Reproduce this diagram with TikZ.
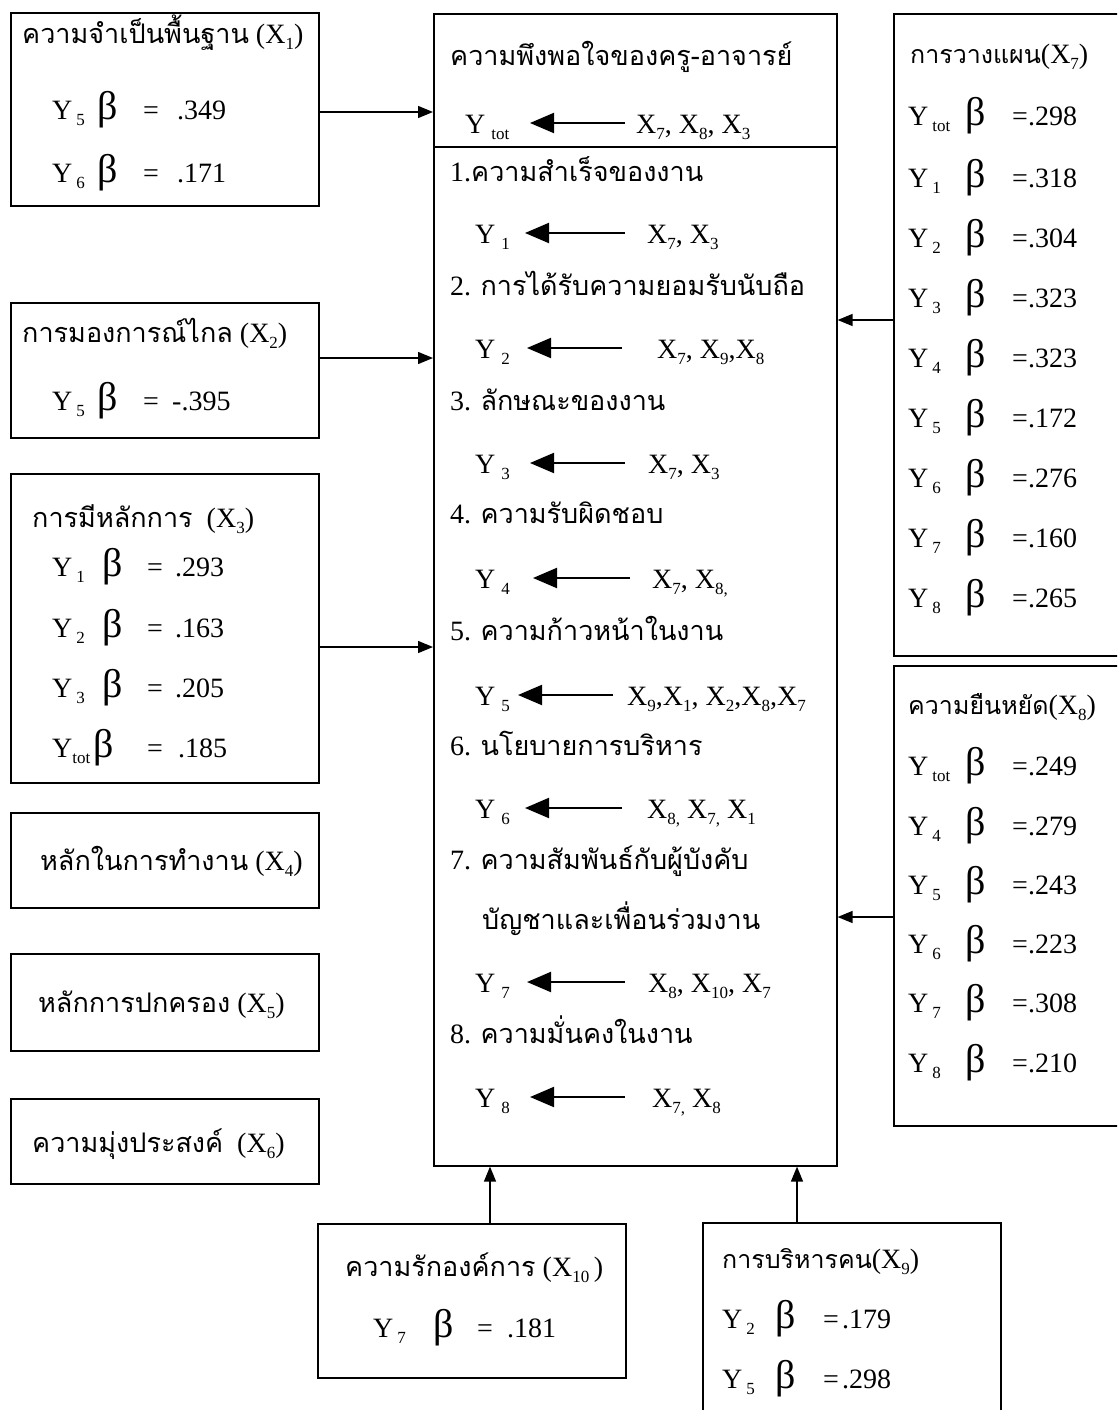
\documentclass[tikz,border=0pt]{standalone}
\usepackage{fontspec}
\setmainfont{Liberation Serif}
\newfontfamily\thaifont[Script=Thai]{Loma}
\usetikzlibrary{arrows.meta}
\newcommand\sbx[1]{\raisebox{-6pt}{\fontsize{17}{17}\selectfont #1}}
\newcommand\tha[1]{{\thaifont\fontsize{27}{32}\selectfont #1}}
\newcommand\thb[1]{{\thaifont\fontsize{25}{30}\selectfont #1}}
\newcommand\bet{{\fontsize{40}{40}\selectfont β}}
% name, ycenter, xY, sub, xBeta, xEq, xVal, value
\newcommand\brow[8]{%
  \node[txt] (#1a) at (#3,#2+10) {Y\hspace{4pt}\sbx{#4}};
  \node[txt] (#1b) at (#5,#2+10) {\bet};
  \node[txt] (#1c) at (#6,#2+10) {=};
  \node[txt] (#1d) at (#7,#2+10) {#8};}
% name, ycenter, xY, sub, xtip, xtail, xlist, list
\newcommand\mrow[8]{%
  \node[txt] (#1y) at (#3,#2+10) {Y\hspace{6pt}\sbx{#4}};
  \coordinate (#1s) at (#6,#2);
  \coordinate (#1e) at (#5,#2);
  \draw[inarr] (#1s) -- (#1e);
  \node[txt] (#1x) at (#7,#2+10) {#8};}
\begin{document}
\begin{tikzpicture}[x=1pt,y=-1pt,
  box/.style={draw,line width=1.6pt,inner sep=0,anchor=north west},
  txt/.style={anchor=base west,inner sep=0,font=\fontsize{28}{34}\selectfont},
  conn/.style={line width=1.4pt,-{Triangle[length=15pt,width=12pt]}},
  inarr/.style={line width=2pt,-{Triangle[length=24pt,width=20pt]}}]
\useasboundingbox (0,0) rectangle (1117,1410);
\clip (0,0) rectangle (1117,1410);
% boxes
\node[box,minimum width=308,minimum height=193] (bx1) at (10,12) {};
\node[box,minimum width=308,minimum height=135] (bx2) at (10,302) {};
\node[box,minimum width=308,minimum height=309] (bx3) at (10,473) {};
\node[box,minimum width=308,minimum height=95] (bx4) at (10,812) {};
\node[box,minimum width=308,minimum height=97] (bx5) at (10,953) {};
\node[box,minimum width=308,minimum height=85] (bx6) at (10,1098) {};
\node[box,minimum width=403,minimum height=1152] (main) at (433,13) {};
\node[box,minimum width=240,minimum height=642] (bx7) at (893,13) {};
\node[box,minimum width=240,minimum height=460] (bx8) at (893,665) {};
\node[box,minimum width=308,minimum height=154] (bx10) at (317,1223) {};
\node[box,minimum width=298,minimum height=220] (bx9) at (702,1222) {};
\coordinate (div) at (0,147);
\draw[line width=1.6pt] (main.west |- div) -- (main.east |- div);
% connectors
\coordinate (c1) at (0,112);
\coordinate (c2) at (0,358);
\coordinate (c3) at (0,647);
\coordinate (c7) at (0,320);
\coordinate (c8) at (0,917);
\coordinate (c10) at (490,0);
\coordinate (c9) at (797,0);
\draw[conn] (bx1.east |- c1) -- (main.west |- c1);
\draw[conn] (bx2.east |- c2) -- (main.west |- c2);
\draw[conn] (bx3.east |- c3) -- (main.west |- c3);
\draw[conn] (bx7.west |- c7) -- (main.east |- c7);
\draw[conn] (bx8.west |- c8) -- (main.east |- c8);
\draw[conn] (bx10.north -| c10) -- (main.south -| c10);
\draw[conn] (bx9.north -| c9) -- (main.south -| c9);
% left boxes
\node[txt] (h1) at (22,44) {\tha{ความจำเป็นพื้นฐาน} (X\sbx{1})};
\brow{a1}{110}{52}{5}{97}{143}{177}{.349}
\brow{a2}{172}{52}{6}{97}{143}{177}{.171}
\node[txt] (h2) at (22,342) {\tha{การมองการณ์ไกล} (X\sbx{2})};
\brow{b1}{400}{52}{5}{97}{143}{172}{-.395}
\node[txt] (h3) at (32,527) {\tha{การมีหลักการ}\ \ (X\sbx{3})};
\brow{c1}{566}{52}{1}{102}{147}{175}{.293}
\brow{c2}{627}{52}{2}{102}{147}{175}{.163}
\brow{c3}{687}{52}{3}{102}{147}{175}{.205}
\node[txt] (c4a) at (52,757) {Y\sbx{tot}};
\node[txt] (c4b) at (93,757) {\bet};
\node[txt] (c4c) at (147,757) {=};
\node[txt] (c4d) at (178,757) {.185};
\node[txt] (h4) at (40,870) {\tha{หลักในการทำงาน} (X\sbx{4})};
\node[txt] (h5) at (38,1012) {\tha{หลักการปกครอง} (X\sbx{5})};
\node[txt] (h6) at (32,1152) {\tha{ความมุ่งประสงค์}\ \ (X\sbx{6})};
% main box
\node[txt] (t0) at (450,66) {\tha{ความพึงพอใจของครู-อาจารย์}};
\mrow{m0}{123}{465}{tot}{530}{625}{636}{X\sbx{7}, X\sbx{8}, X\sbx{3}}
\node[txt] (t1) at (450,181) {1.\tha{ความสำเร็จของงาน}};
\mrow{m1}{233}{475}{1}{525}{625}{647}{X\sbx{7}, X\sbx{3}}
\node[txt] (t2) at (450,295) {2. \tha{การได้รับความยอมรับนับถือ}};
\mrow{m2}{348}{475}{2}{527}{622}{657}{X\sbx{7}, X\sbx{9},X\sbx{8}}
\node[txt] (t3) at (450,410) {3. \tha{ลักษณะของงาน}};
\mrow{m3}{463}{475}{3}{530}{625}{648}{X\sbx{7}, X\sbx{3}}
\node[txt] (t4) at (450,523) {4. \tha{ความรับผิดชอบ}};
\mrow{m4}{578}{475}{4}{533}{630}{652}{X\sbx{7}, X\sbx{8,}}
\node[txt] (t5) at (450,640) {5. \tha{ความก้าวหน้าในงาน}};
\mrow{m5}{695}{475}{5}{518}{613}{627}{X\sbx{9},X\sbx{1}, X\sbx{2},X\sbx{8},X\sbx{7}}
\node[txt] (t6) at (450,755) {6. \tha{นโยบายการบริหาร}};
\mrow{m6}{808}{475}{6}{525}{622}{647}{X\sbx{8,} X\sbx{7,} X\sbx{1}}
\node[txt] (t7) at (450,869) {7. \tha{ความสัมพันธ์กับผู้บังคับ}};
\node[txt] (t7b) at (482,929) {\tha{บัญชาและเพื่อนร่วมงาน}};
\mrow{m7}{982}{475}{7}{527}{625}{648}{X\sbx{8}, X\sbx{10}, X\sbx{7}}
\node[txt] (t8) at (450,1043) {8. \tha{ความมั่นคงในงาน}};
\mrow{m8}{1097}{475}{8}{530}{625}{652}{X\sbx{7,} X\sbx{8}}
% right boxes
\node[txt] (h7) at (910,64) {\thb{การวางแผน}(X\sbx{7})};
\brow{r0}{115}{908}{tot}{965}{1012}{1028}{.298}
\brow{r1}{177}{908}{1}{965}{1012}{1028}{.318}
\brow{r2}{237}{908}{2}{965}{1012}{1028}{.304}
\brow{r3}{297}{908}{3}{965}{1012}{1028}{.323}
\brow{r4}{357}{908}{4}{965}{1012}{1028}{.323}
\brow{r5}{417}{908}{5}{965}{1012}{1028}{.172}
\brow{r6}{477}{908}{6}{965}{1012}{1028}{.276}
\brow{r7}{537}{908}{7}{965}{1012}{1028}{.160}
\brow{r8}{597}{908}{8}{965}{1012}{1028}{.265}
\node[txt] (h8) at (908,714) {\thb{ความยืนหยัด}(X\sbx{8})};
\brow{s0}{765}{908}{tot}{965}{1012}{1028}{.249}
\brow{s4}{825}{908}{4}{965}{1012}{1028}{.279}
\brow{s5}{884}{908}{5}{965}{1012}{1028}{.243}
\brow{s6}{943}{908}{6}{965}{1012}{1028}{.223}
\brow{s7}{1002}{908}{7}{965}{1012}{1028}{.308}
\brow{s8}{1062}{908}{8}{965}{1012}{1028}{.210}
% bottom boxes
\node[txt] (h10) at (345,1276) {\tha{ความรักองค์การ} (X\sbx{10}\,)};
\brow{u7}{1327}{373}{7}{433}{477}{507}{.181}
\node[txt] (h9) at (722,1268) {\thb{การบริหารคน}(X\sbx{9})};
\brow{v2}{1318}{722}{2}{775}{823}{842}{.179}
\brow{v5}{1378}{722}{5}{775}{823}{842}{.298}
\end{tikzpicture}
\end{document}
